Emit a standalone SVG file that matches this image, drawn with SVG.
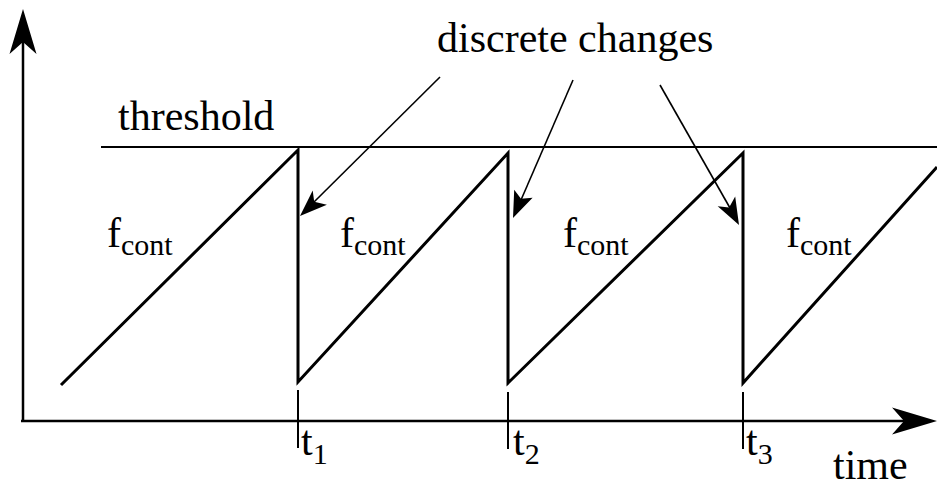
<svg xmlns="http://www.w3.org/2000/svg" width="937" height="489" viewBox="0 0 937 489">
<g id="axes">
  <line x1="23" y1="421" x2="23" y2="40" stroke="#000" stroke-width="2.5"/>
  <path d="M23,9 L36.5,54 L23,42 L9.5,54 Z" fill="#000"/>
  <line x1="21" y1="421" x2="910" y2="421" stroke="#000" stroke-width="2.5"/>
  <path d="M937,421 L892,434.5 L904,421 L892,407.5 Z" fill="#000"/>
</g>
<g id="signal">
  <polyline points="61,385 298,150 298,382 508,153 508,383 743,153 743,383 937,167" stroke="#000" stroke-width="3" fill="none"/>
</g>
<g id="threshold">
  <line x1="101" y1="147" x2="937" y2="147" stroke="#000" stroke-width="2"/>
  <text x="118" y="130" font-size="42" font-family="Liberation Serif">threshold</text>
</g>
<g id="labels-f">
  <text x="107" y="247" font-size="42" font-family="Liberation Serif">f<tspan font-size="30" dy="8">cont</tspan></text>
  <text x="340" y="247" font-size="42" font-family="Liberation Serif">f<tspan font-size="30" dy="8">cont</tspan></text>
  <text x="563" y="247" font-size="42" font-family="Liberation Serif">f<tspan font-size="30" dy="8">cont</tspan></text>
  <text x="786" y="247" font-size="42" font-family="Liberation Serif">f<tspan font-size="30" dy="8">cont</tspan></text>
</g>
<g id="ticks">
  <line x1="298" y1="390" x2="298" y2="448" stroke="#000" stroke-width="2"/>
  <line x1="508" y1="392" x2="508" y2="449" stroke="#000" stroke-width="2"/>
  <line x1="743" y1="392" x2="743" y2="449" stroke="#000" stroke-width="2"/>
  <text x="301" y="455" font-size="42" font-family="Liberation Serif">t<tspan font-size="30" dy="9">1</tspan></text>
  <text x="513" y="455" font-size="42" font-family="Liberation Serif">t<tspan font-size="30" dy="9">2</tspan></text>
  <text x="746" y="455" font-size="42" font-family="Liberation Serif">t<tspan font-size="30" dy="9">3</tspan></text>
</g>
<g id="time-label">
  <text x="833" y="479" font-size="42" font-family="Liberation Serif">time</text>
</g>
<g id="discrete-changes">
  <text x="437" y="52" font-size="42" font-family="Liberation Serif">discrete changes</text>
</g>
<g id="connectors">
  <line x1="440" y1="77" x2="314" y2="202" stroke="#000" stroke-width="1.6"/>
  <path d="M300,216 L312.7,190.6 L314.2,201.8 L326.9,204.8 Z" fill="#000"/>
  <line x1="573" y1="80" x2="521" y2="200" stroke="#000" stroke-width="1.6"/>
  <path d="M513,218 L514.2,189.7 L521.0,198.7 L532.6,197.7 Z" fill="#000"/>
  <line x1="660" y1="85" x2="730" y2="208" stroke="#000" stroke-width="1.6"/>
  <path d="M739,225 L717.7,206.3 L729.1,207.6 L735.2,196.4 Z" fill="#000"/>
</g>
</svg>
